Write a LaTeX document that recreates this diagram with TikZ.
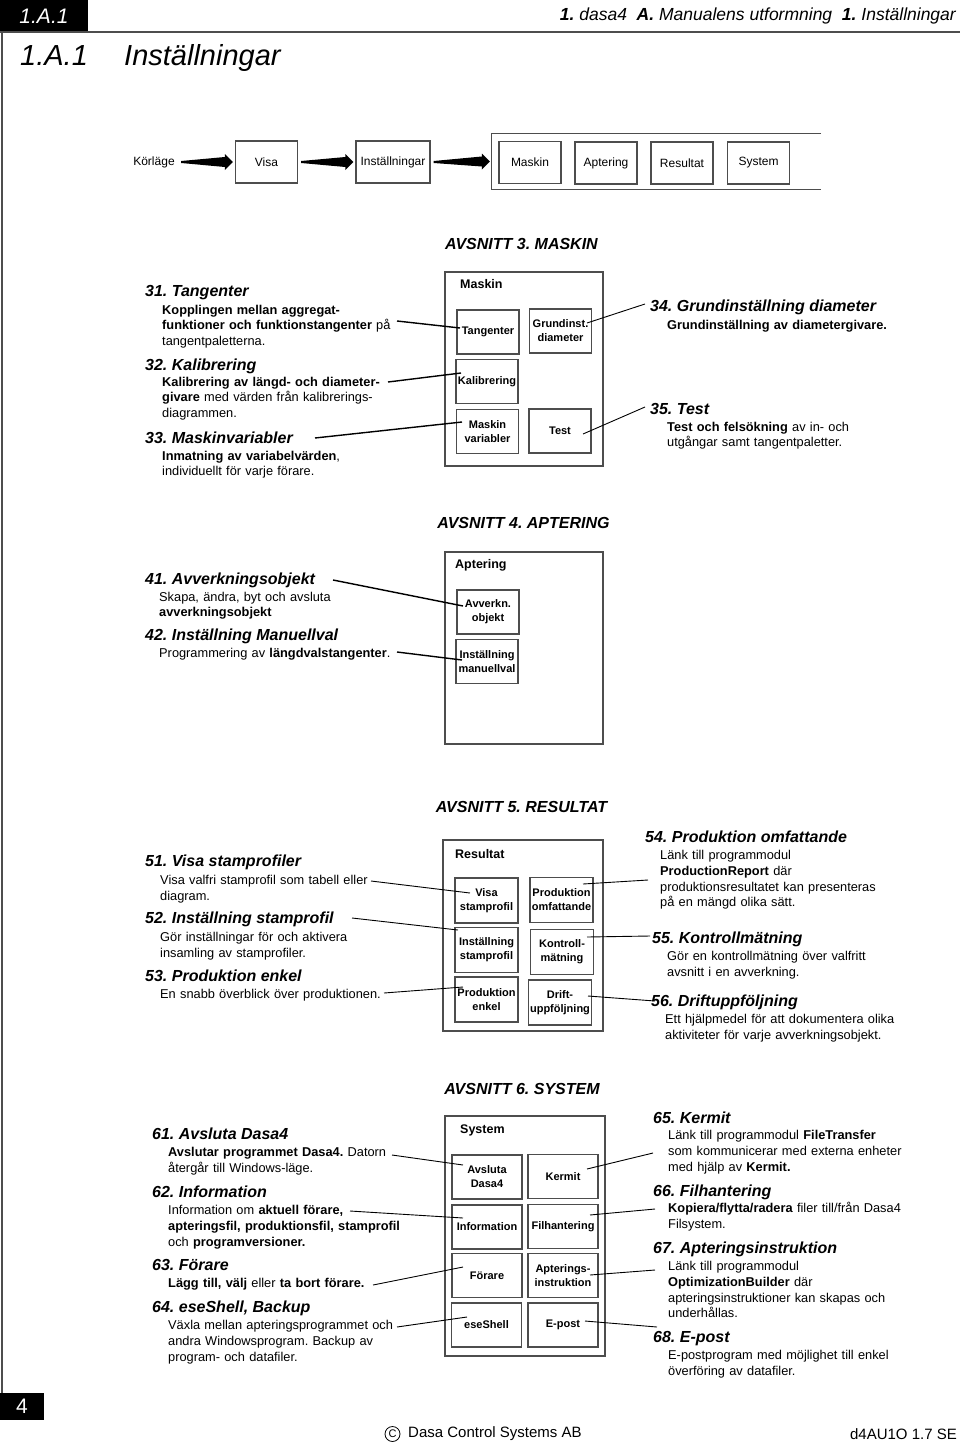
\documentclass[tikz,border=0pt]{standalone}
\usepackage{fontspec}
\setmainfont{Liberation Sans}
\usetikzlibrary{calc,positioning}
\definecolor{boxgray}{HTML}{4D4D4D}
\tikzset{
    pbox/.style={draw=boxgray,line width=1.3pt,minimum width=62pt,minimum height=44pt,inner sep=1pt,align=center,font=\fontsize{11}{14}\selectfont\bfseries},
    navbox/.style={draw=boxgray,line width=1.3pt,minimum width=62pt,minimum height=42pt,inner sep=1pt,font=\fontsize{12}{14}\selectfont},
    cont/.style={draw=boxgray,line width=1.3pt,inner sep=0pt},
    contlbl/.style={anchor=base west,inner sep=0pt,font=\fontsize{12.5}{15}\selectfont\bfseries},
    head/.style={anchor=base west,inner sep=0pt,font=\fontsize{16}{19}\selectfont\bfseries\itshape},
    body/.style={anchor=base west,inner sep=0pt,text width=270pt,align=left,font=\fontsize{12.8}{15.8}\selectfont},
    avsnitt/.style={anchor=base,inner sep=0pt,font=\fontsize{16}{19}\selectfont\bfseries\itshape},
    lead/.style={line width=1.4pt},
    thinlead/.style={line width=0.9pt}
}
\newcommand\navarrow[2]{%
  \fill let \p1=(#1.east), \p2=(#2.west) in
    ({\x1+3pt},{\y1+1pt}) -- ({\x2-10pt},{\y2+5pt}) -- ({\x2-10pt},{\y2+8pt})
    -- ({\x2-2pt},\y2) -- ({\x2-10pt},{\y2-8pt}) -- ({\x2-10pt},{\y2-5pt})
    -- ({\x1+3pt},{\y1-1pt}) -- cycle;}
\frenchspacing

\begin{document}
\begin{tikzpicture}[x=1pt,y=-1pt]
\fill[white] (0,0) rectangle (960,1446);
\useasboundingbox (0,0) rectangle (960,1446);

% page header
\fill (0,0) rectangle (88,32);
\node[text=white,font=\fontsize{21}{24}\selectfont\itshape] (tab) at (44,16) {1.A.1};
\draw[boxgray,line width=2pt] (0,32) -- (960,32);
\draw[boxgray,line width=2pt] (1.5,32) -- (1.5,1393);
\node[anchor=base east,inner sep=0pt,font=\fontsize{17.5}{20}\selectfont\itshape] (crumb) at (956,20)
    {\textbf{1.} dasa4 \ \textbf{A.} Manualens utformning \ \textbf{1.} Inställningar};
\node[anchor=base west,inner sep=0pt,font=\fontsize{29}{32}\selectfont\itshape] (chap) at (20,65) {1.A.1};
\node[anchor=base west,inner sep=0pt,font=\fontsize{29}{32}\selectfont\itshape] (chapname) at (124,65) {Inställningar};

% menu path
\node[font=\fontsize{12}{14}\selectfont] (korl) at (154,162) {Körläge};
\node[navbox] (visa) at (266.5,162) {Visa};
\node[navbox,minimum width=74pt] (inst) at (393,162) {Inställningar};
\node[inner sep=0pt,minimum width=329pt,minimum height=55pt] (navgrp) at (656.5,161.5) {};
\draw[cont] (navgrp.north east) -- (navgrp.north west) -- (navgrp.south west) -- (navgrp.south east);
\node[navbox] (nmask) at (530,162.5) {Maskin};
\node[navbox] (napt) at (606,163) {Aptering};
\node[navbox] (nres) at (682,163) {Resultat};
\node[navbox] (nsys) at (758.5,163) {System};
\navarrow{korl}{visa}
\navarrow{visa}{inst}
\navarrow{inst}{navgrp}

% avsnitt 3
\node[avsnitt] (t3) at (521.5,249) {AVSNITT 3. MASKIN};
\node[cont,minimum width=158pt,minimum height=194pt] (maskin) at (524,369) {};
\node[contlbl] at (460,288) {Maskin};
\node[pbox] (tang) at (488,332) {Tangenter};
\node[pbox] (grund) at (560.5,331) {Grundinst.\\diameter};
\node[pbox] (kalib) at (487,381.5) {Kalibrering};
\node[pbox] (mvar) at (487.5,431.5) {Maskin\\variabler};
\node[pbox] (test) at (560,431) {Test};

\node[head] (h31) at (145,296) {31. Tangenter};
\node[body] (b31) at (162,314) {\textbf{Kopplingen mellan aggregat-}\\\textbf{funktioner och funktionstangenter} på\\tangentpaletterna.};
\node[head] (h32) at (145,370) {32. Kalibrering};
\node[body] (b32) at (162,386) {\textbf{Kalibrering av längd- och diameter-}\\\textbf{givare} med värden från kalibrerings-\\diagrammen.};
\node[head] (h33) at (145,443) {33. Maskinvariabler};
\node[body] (b33) at (162,460) {\textbf{Inmatning av variabelvärden},\\individuellt för varje förare.};
\node[head] (h34) at (650,311) {34. Grundinställning diameter};
\node[body] (b34) at (667,329) {\textbf{Grundinställning av diametergivare.}};
\node[head] (h35) at (650,414) {35. Test};
\node[body] (b35) at (667,431) {\textbf{Test och felsökning} av in- och\\utgångar samt tangentpaletter.};

\coordinate (e31) at (397,321);
\coordinate (e32) at (388,382);
\coordinate (e33) at (315,438);
\coordinate (e34) at (645,304);
\coordinate (e35) at (645,407);
\draw[lead] (e31) -- ([shift={(-28,-4)}]tang.center);
\draw[lead] (e32) -- ([shift={(-26,-8.5)}]kalib.center);
\draw[lead] (e33) -- ([shift={(-25.5,-9.5)}]mvar.center);
\draw[thinlead] ([shift={(26.5,-8)}]grund.center) -- (e34);
\draw[thinlead] ([shift={(23,3)}]test.center) -- (e35);

% avsnitt 4
\node[avsnitt] (t4) at (523.5,528) {AVSNITT 4. APTERING};
\node[cont,minimum width=158pt,minimum height=192pt] (apter) at (524,648) {};
\node[contlbl] at (455,568) {Aptering};
\node[pbox] (avv) at (488,612) {Avverkn.\\objekt};
\node[pbox] (man) at (487,661.5) {Inställning\\manuellval};

\node[head] (h41) at (145,584) {41. Avverkningsobjekt};
\node[body] (b41) at (159,601) {Skapa, ändra, byt och avsluta\\\textbf{avverkningsobjekt}};
\node[head] (h42) at (145,640) {42. Inställning Manuellval};
\node[body] (b42) at (159,657) {Programmering av \textbf{längdvalstangenter}.};

\coordinate (e41) at (333,580);
\coordinate (e42) at (397,652);
\draw[lead] (e41) -- ([shift={(-25,-6)}]avv.center);
\draw[lead] (e42) -- ([shift={(-25,-1.5)}]man.center);

% avsnitt 5
\node[avsnitt] (t5) at (521.5,812) {AVSNITT 5. RESULTAT};
\node[cont,minimum width=160pt,minimum height=191pt] (result) at (523,935.5) {};
\node[contlbl] at (455,858) {Resultat};
\node[pbox,minimum width=63pt,minimum height=45pt] (vstamp) at (486.5,900.5) {Visa\\stamprofil};
\node[pbox,minimum width=63pt,minimum height=45pt] (pomf) at (561.5,900) {Produktion\\omfattande};
\node[pbox,minimum width=63pt,minimum height=45pt] (istamp) at (486.5,950) {Inställning\\stamprofil};
\node[pbox,minimum width=63pt,minimum height=45pt] (kontr) at (562,952) {Kontroll-\\mätning};
\node[pbox,minimum width=63pt,minimum height=45pt] (penkel) at (486.5,999.5) {Produktion\\enkel};
\node[pbox,minimum width=63pt,minimum height=45pt] (drift) at (560,1002.5) {Drift-\\uppföljning};

\node[head] (h51) at (145,866) {51. Visa stamprofiler};
\node[body] (b51) at (160,884.5) {Visa valfri stamprofil som tabell eller\\diagram.};
\node[head] (h52) at (145,923) {52. Inställning stamprofil};
\node[body] (b52) at (160,941.5) {Gör inställningar för och aktivera\\insamling av stamprofiler.};
\node[head] (h53) at (145,981) {53. Produktion enkel};
\node[body] (b53) at (160,998.5) {En snabb överblick över produktionen.};
\node[head] (h54) at (645,842) {54. Produktion omfattande};
\node[body] (b54) at (660,859.5) {Länk till programmodul\\\textbf{ProductionReport} där\\produktionsresultatet kan presenteras\\på en mängd olika sätt.};
\node[head] (h55) at (652,943) {55. Kontrollmätning};
\node[body] (b55) at (667,960.5) {Gör en kontrollmätning över valfritt\\avsnitt i en avverkning.};
\node[head] (h56) at (651,1006) {56. Driftuppföljning};
\node[body] (b56) at (665,1023.5) {Ett hjälpmedel för att dokumentera olika\\aktiviteter för varje avverkningsobjekt.};

\coordinate (e51) at (371,881);
\coordinate (e52) at (352,918);
\coordinate (e53) at (384,993);
\coordinate (e54) at (648,880);
\coordinate (e55) at (650,936);
\coordinate (e56) at (655,1001);
\draw[thinlead] (e51) -- ([shift={(-16.5,-7.5)}]vstamp.center);
\draw[thinlead] (e52) -- ([shift={(-28.5,-20)}]istamp.center);
\draw[thinlead] (e53) -- ([shift={(-23.5,-12.5)}]penkel.center);
\draw[thinlead] ([shift={(21.5,-16)}]pomf.center) -- (e54);
\draw[thinlead] ([shift={(25,-15)}]kontr.center) -- (e55);
\draw[thinlead] ([shift={(28,-6.5)}]drift.center) -- (e56);

% avsnitt 6
\node[avsnitt] (t6) at (522,1094) {AVSNITT 6. SYSTEM};
\node[cont,minimum width=160pt,minimum height=240pt] (system) at (525,1236) {};
\node[contlbl] at (460,1133) {System};
\node[pbox,minimum width=70pt] (avsl) at (487,1177) {Avsluta\\Dasa4};
\node[pbox,minimum width=70pt] (kermit) at (563,1176.5) {Kermit};
\node[pbox,minimum width=70pt] (info) at (487,1227) {Information};
\node[pbox,minimum width=70pt] (filh) at (563,1226.5) {Filhantering};
\node[pbox,minimum width=70pt] (forare) at (487,1275.5) {Förare};
\node[pbox,minimum width=70pt] (apti) at (563,1275.5) {Apterings-\\instruktion};
\node[pbox,minimum width=70pt] (ese) at (486.5,1325) {eseShell};
\node[pbox,minimum width=70pt] (epost) at (563,1325) {E-post};

\node[head] (h61) at (152,1139) {61. Avsluta Dasa4};
\node[body] (b61) at (168,1156.5) {\textbf{Avslutar programmet Dasa4.} Datorn\\återgår till Windows-läge.};
\node[head] (h62) at (152,1197) {62. Information};
\node[body] (b62) at (168,1214.5) {Information om \textbf{aktuell förare,}\\\textbf{apteringsfil, produktionsfil, stamprofil}\\och \textbf{programversioner.}};
\node[head] (h63) at (152,1270) {63. Förare};
\node[body] (b63) at (168,1287.5) {\textbf{Lägg till, välj} eller \textbf{ta bort förare.}};
\node[head] (h64) at (152,1312) {64. eseShell, Backup};
\node[body] (b64) at (168,1329.5) {Växla mellan apteringsprogrammet och\\andra Windowsprogram. Backup av\\program- och datafiler.};
\node[head] (h65) at (653,1123) {65. Kermit};
\node[body] (b65) at (668,1139.5) {Länk till programmodul \textbf{FileTransfer}\\som kommunicerar med externa enheter\\med hjälp av \textbf{Kermit.}};
\node[head] (h66) at (653,1196) {66. Filhantering};
\node[body] (b66) at (668,1212.5) {\textbf{Kopiera/flytta/radera} filer till/från Dasa4\\Filsystem.};
\node[head] (h67) at (653,1253) {67. Apteringsinstruktion};
\node[body] (b67) at (668,1270.5) {Länk till programmodul\\\textbf{OptimizationBuilder} där\\apteringsinstruktioner kan skapas och\\underhållas.};
\node[head] (h68) at (653,1342) {68. E-post};
\node[body] (b68) at (668,1359.5) {E-postprogram med möjlighet till enkel\\överföring av datafiler.};

\coordinate (e61) at (392,1155);
\coordinate (e62) at (350,1211);
\coordinate (e63) at (373,1285);
\coordinate (e64) at (397,1327);
\coordinate (e65) at (653,1153);
\coordinate (e66) at (655,1209);
\coordinate (e67) at (655,1270);
\coordinate (e68) at (657,1327);
\draw[thinlead] (e61) -- ([shift={(-24,-12)}]avsl.center);
\draw[thinlead] (e62) -- ([shift={(-24,-9)}]info.center);
\draw[thinlead] (e63) -- ([shift={(-24,-8.5)}]forare.center);
\draw[thinlead] (e64) -- ([shift={(-19.5,-8)}]ese.center);
\draw[thinlead] ([shift={(24,-7.5)}]kermit.center) -- (e65);
\draw[thinlead] ([shift={(27,-11.5)}]filh.center) -- (e66);
\draw[thinlead] ([shift={(27,-0.5)}]apti.center) -- (e67);
\draw[thinlead] ([shift={(22,-4)}]epost.center) -- (e68);

% page footer
\fill (0,1393) rectangle (44,1420);
\node[text=white,font=\fontsize{21}{24}\selectfont] (pageno) at (22,1406.5) {4};
\node[circle,draw,line width=0.8pt,inner sep=0pt,minimum size=15pt,font=\fontsize{11}{12}\selectfont] (copy) at (392.5,1434) {C};
\node[anchor=west,inner sep=0pt,font=\fontsize{15}{18}\selectfont] (firm) at (408,1434) {Dasa Control Systems AB};
\node[anchor=east,inner sep=0pt,font=\fontsize{15}{18}\selectfont] (docid) at (957,1434) {d4AU1O 1.7 SE};
\end{tikzpicture}
\end{document}
